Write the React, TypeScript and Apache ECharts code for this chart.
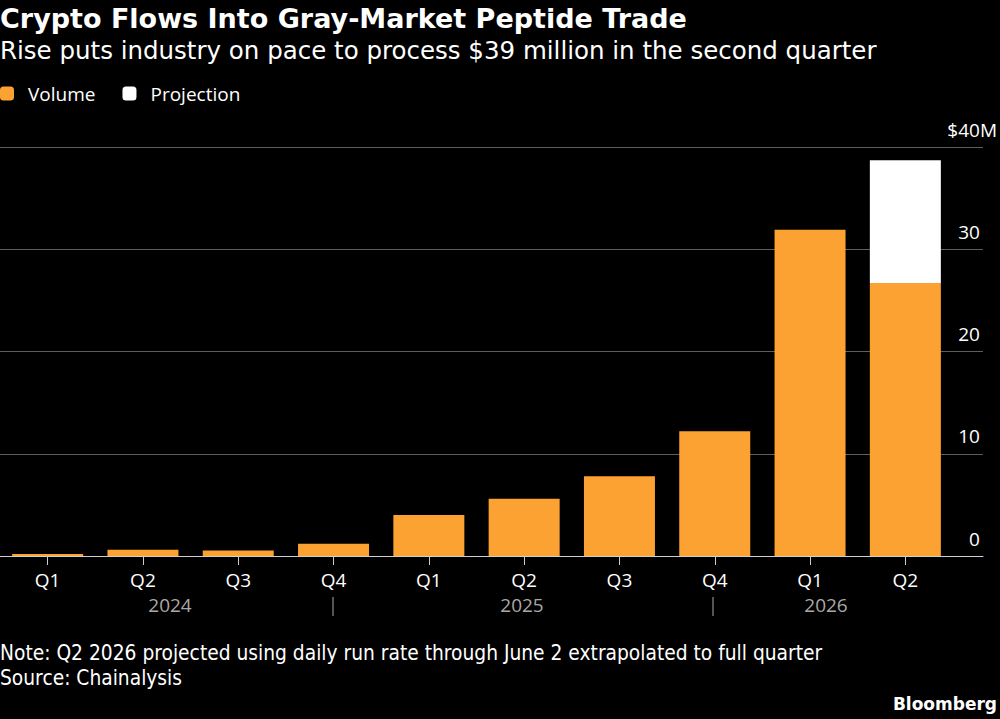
import React, { useEffect, useRef } from "react";
import * as echarts from "echarts";

const quarters = ["Q1", "Q2", "Q3", "Q4", "Q1", "Q2", "Q3", "Q4", "Q1", "Q2"];
const volume = [0.2, 0.6, 0.55, 1.2, 4.0, 5.6, 7.8, 12.2, 31.9, 26.7];
const projection = [null, null, null, null, null, null, null, null, null, 12.0];
const yTicks = [0, 10, 20, 30, 40];
const years = [
  { text: "2024", x: 170 },
  { text: "2025", x: 522 },
  { text: "2026", x: 826 },
];
const separators = [333, 713];

const FONT = "'Open Sans', 'Noto Sans', sans-serif";
const WIDE = "'DejaVu Sans', sans-serif";

export default function App() {
  const ref = useRef<HTMLDivElement>(null);
  useEffect(() => {
    if (!ref.current) return;
    const chart = echarts.init(ref.current, null, { renderer: "svg" });
    const graphics: any[] = [
      {
        type: "text",
        x: 0,
        y: 18,
        style: {
          text: "Crypto Flows Into Gray-Market Peptide Trade",
          fill: "#ffffff",
          font: `bold 27px ${WIDE}`,
          verticalAlign: "middle",
        },
      },
      {
        type: "text",
        x: 0,
        y: 50,
        style: {
          text: "Rise puts industry on pace to process $39 million in the second quarter",
          fill: "#ffffff",
          font: `24.5px ${WIDE}`,
          verticalAlign: "middle",
        },
      },
      {
        type: "text",
        x: 0,
        y: 653,
        scaleX: 0.89,
        style: {
          text: "Note: Q2 2026 projected using daily run rate through June 2 extrapolated to full quarter",
          fill: "#ffffff",
          font: `21px ${WIDE}`,
          verticalAlign: "middle",
        },
      },
      {
        type: "text",
        x: 0,
        y: 678,
        scaleX: 0.89,
        style: { text: "Source: Chainalysis", fill: "#ffffff", font: `21px ${WIDE}`, verticalAlign: "middle" },
      },
      {
        type: "text",
        x: 997,
        y: 704,
        style: {
          text: "Bloomberg",
          fill: "#ffffff",
          font: `bold 17px ${WIDE}`,
          align: "right",
          verticalAlign: "middle",
        },
      },
    ];
    years.forEach((y) => {
      graphics.push({
        type: "text",
        x: y.x,
        y: 605,
        style: {
          text: y.text,
          fill: "#a8a8a8",
          font: `19px ${FONT}`,
          align: "center",
          verticalAlign: "middle",
        },
      });
    });
    separators.forEach((x) => {
      graphics.push({
        type: "line",
        shape: { x1: x, y1: 597, x2: x, y2: 616 },
        style: { stroke: "#a8a8a8", lineWidth: 1 },
      });
    });

    chart.setOption({
      animation: false,
      backgroundColor: "#000000",
      textStyle: { fontFamily: FONT },
      legend: {
        left: -5,
        top: 79,
        icon: "roundRect",
        itemWidth: 14,
        itemHeight: 14,
        itemGap: 27,
        textStyle: { color: "#ffffff", fontSize: 19, fontFamily: FONT, padding: [0, 0, 0, 9] },
        data: [
          { name: "Volume", itemStyle: { color: "#fca232" } },
          { name: "Projection", itemStyle: { color: "#ffffff" } },
        ],
      },
      grid: [
        { left: -1, right: 47, top: 147, bottom: 163 },
        { left: 0, right: 17, top: 147, bottom: 163 },
      ],
      xAxis: [
        {
          type: "category",
          gridIndex: 0,
          data: quarters,
          axisLine: { show: false },
          axisTick: { show: true, alignWithLabel: true, length: 9, lineStyle: { color: "#cccccc" } },
          axisLabel: { color: "#ffffff", fontSize: 19, margin: 14, fontFamily: FONT },
        },
        {
          type: "category",
          gridIndex: 1,
          data: quarters,
          axisLine: { show: true, lineStyle: { color: "#d0d0d0", width: 1 } },
          axisTick: { show: false },
          axisLabel: { show: false },
        },
      ],
      yAxis: [
        {
          type: "value",
          gridIndex: 0,
          min: 0,
          max: 40,
          interval: 10,
          show: false,
          splitLine: { show: false },
        },
        {
          type: "value",
          gridIndex: 1,
          position: "right",
          min: 0,
          max: 40,
          interval: 10,
          axisLine: { show: false },
          axisTick: { show: false },
          splitLine: { show: true, lineStyle: { color: "#5e5e5e", width: 1 } },
          axisLabel: {
            inside: true,
            margin: -14,
            verticalAlign: "bottom",
            padding: [0, 0, 8, 0],
            formatter: (v: number) =>
              v === yTicks[yTicks.length - 1] ? `{n|$${v}M}` : `{n|${v}}{s|M}`,
            rich: {
              n: { color: "#ffffff", fontSize: 19, fontFamily: FONT },
              s: { color: "rgba(0,0,0,0)", fontSize: 19, fontFamily: FONT },
            },
          },
        },
      ],
      series: [
        {
          name: "Volume",
          type: "bar",
          stack: "total",
          xAxisIndex: 0,
          yAxisIndex: 0,
          barWidth: 71,
          itemStyle: { color: "#fca232" },
          data: volume,
        },
        {
          name: "Projection",
          type: "bar",
          stack: "total",
          xAxisIndex: 0,
          yAxisIndex: 0,
          barWidth: 71,
          itemStyle: { color: "#ffffff" },
          data: projection,
        },
      ],
      graphic: graphics,
    });
    return () => chart.dispose();
  }, []);
  return (
    <div
      ref={ref}
      style={{ position: "fixed", left: 0, top: 0, width: 1000, height: 719, background: "#000" }}
    />
  );
}
